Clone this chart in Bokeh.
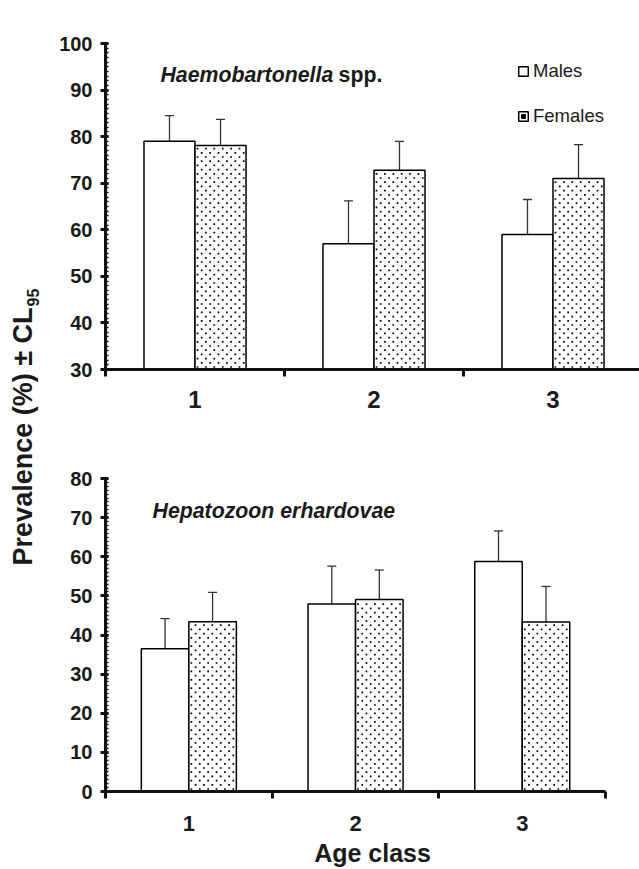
import numpy as np
from bokeh.plotting import figure
from bokeh.layouts import row, column
from bokeh.models import (ColumnDataSource, Whisker, TeeHead, FixedTicker, Label,
                          Legend, LegendItem, Range1d)
from bokeh.core.properties import value
from bokeh.embed import file_html
from bokeh.resources import INLINE

# ---------------- data ----------------
categories = ["1", "2", "3"]

haemo_males = [79.0, 57.0, 59.0]
haemo_males_lo = [73.3, 50.7, 51.5]
haemo_males_hi = [84.5, 66.2, 66.5]
haemo_females = [78.1, 72.8, 71.0]
haemo_females_lo = [71.5, 65.6, 62.1]
haemo_females_hi = [83.7, 79.0, 78.3]

hep_males = [36.5, 47.9, 58.8]
hep_males_lo = [29.6, 38.2, 50.9]
hep_males_hi = [44.2, 57.6, 66.6]
hep_females = [43.4, 49.1, 43.3]
hep_females_lo = [36.2, 41.6, 34.7]
hep_females_hi = [50.9, 56.6, 52.4]

panel_a_yticks = list(range(30, 101, 10))
panel_b_yticks = list(range(0, 81, 10))

FONT = "Liberation Sans"
TXT = "#1a1a1a"
BAR_W = 0.285
LEFT_W = 45
PANEL_W = 594
BORDER_L = 60


def stipple(centers, tops, bottom, px_x, px_y):
    """Staggered dot texture inside the female bars (fill pattern)."""
    dx = 8.4 / px_x
    dy = 4.2 / px_y
    xs, ys = [], []
    for c, t in zip(centers, tops):
        x0 = c - BAR_W / 2 + 2.5 / px_x
        x1 = c + BAR_W / 2 - 2.0 / px_x
        y = bottom + 2.5 / px_y
        k = 0
        while y < t - 2.0 / px_y:
            x = x0 + (dx / 2 if k % 2 else 0.0)
            while x < x1:
                xs.append(x)
                ys.append(y)
                x += dx
            y += dy
            k += 1
    return xs, ys


def make_panel(males, m_lo, m_hi, females, f_lo, f_hi, yticks, cat_px,
               height, border_top, border_bottom, frame_h, cat_font, cat_standoff,
               xlabel=None):
    n = len(categories)
    centers = np.arange(n) + 0.5
    frame_w = PANEL_W - BORDER_L
    x_end = frame_w / cat_px
    px_y = frame_h / (yticks[-1] - yticks[0])
    p = figure(width=PANEL_W, height=height, output_backend="svg", toolbar_location=None,
               x_range=Range1d(0, x_end), y_range=Range1d(yticks[0], yticks[-1]),
               min_border_left=BORDER_L, min_border_right=0,
               min_border_top=border_top, min_border_bottom=border_bottom)
    p.outline_line_color = None
    p.xgrid.visible = False
    p.ygrid.visible = False
    p.background_fill_color = "white"

    src_m = ColumnDataSource(dict(x=centers - BAR_W / 2, top=males, lo=m_lo, hi=m_hi))
    src_f = ColumnDataSource(dict(x=centers + BAR_W / 2, top=females, lo=f_lo, hi=f_hi))

    rm = p.vbar(x="x", top="top", bottom=yticks[0], width=BAR_W, source=src_m,
                fill_color="white", line_color="black", line_width=1.5)
    rf = p.vbar(x="x", top="top", bottom=yticks[0], width=BAR_W, source=src_f,
                fill_color="white", line_color="black", line_width=1.5)
    sx, sy = stipple(centers + BAR_W / 2, females, yticks[0], cat_px, px_y)
    rd = p.scatter(sx, sy, marker="square", size=1.7, fill_color="black",
                   line_color=None)

    for src in (src_m, src_f):
        w = Whisker(base="x", upper="hi", lower="lo", source=src,
                    line_color="#333333", line_width=1.3,
                    upper_head=TeeHead(size=9, line_color="#333333", line_width=1.3),
                    lower_head=TeeHead(size=9, line_color="#333333", line_width=1.3))
        p.add_layout(w)

    # x axis
    xa = p.xaxis[0]
    xa.bounds = (0, n)
    xa.ticker = FixedTicker(ticks=list(centers), minor_ticks=list(range(n + 1)))
    xa.major_label_overrides = {float(c): lab for c, lab in zip(centers, categories)}
    xa.major_tick_line_color = None
    xa.major_tick_out = 0
    xa.major_tick_in = 0
    xa.minor_tick_out = 7
    xa.minor_tick_in = 0
    xa.minor_tick_line_width = 3
    xa.minor_tick_line_color = "#111111"
    xa.axis_line_width = 3
    xa.axis_line_color = "#111111"
    xa.major_label_text_font = FONT
    xa.major_label_text_font_style = "bold"
    xa.major_label_text_font_size = cat_font
    xa.major_label_text_color = TXT
    xa.major_label_standoff = cat_standoff
    if xlabel:
        xa.axis_label = xlabel
        xa.axis_label_text_font = FONT
        xa.axis_label_text_font_style = "bold"
        xa.axis_label_text_font_size = "25px"
        xa.axis_label_text_color = TXT
        xa.axis_label_standoff = 5

    # y axis
    ya = p.yaxis[0]
    ya.ticker = FixedTicker(ticks=yticks, minor_ticks=list(range(yticks[0], yticks[-1] + 1)))
    ya.axis_line_width = 3
    ya.axis_line_color = "#111111"
    ya.major_tick_out = 5
    ya.major_tick_in = 3
    ya.major_tick_line_width = 3
    ya.major_tick_line_color = "#111111"
    ya.minor_tick_out = 0
    ya.minor_tick_in = 3
    ya.minor_tick_line_width = 1.5
    ya.minor_tick_line_color = "#111111"
    ya.major_label_text_font = FONT
    ya.major_label_text_font_style = "bold"
    ya.major_label_text_font_size = "20px"
    ya.major_label_text_color = TXT
    ya.major_label_standoff = 8
    return p, rm, rf, rd


# ---------------- panel a ----------------
pa, rma, rfa, rda = make_panel(haemo_males, haemo_males_lo, haemo_males_hi,
                               haemo_females, haemo_females_lo, haemo_females_hi,
                               panel_a_yticks, 179, height=414,
                               border_top=43, border_bottom=45, frame_h=326,
                               cat_font="24px", cat_standoff=14)

pa.add_layout(Label(x=-0.078, y=102.8, text="a", text_font=FONT, text_font_style="bold",
                    text_font_size="30px", text_color=TXT, text_baseline="alphabetic"))
pa.add_layout(Label(x=0.307, y=93.3, text="Haemobartonella", text_font=FONT,
                    text_font_style="bold italic", text_font_size="21.3px",
                    text_color=TXT, text_baseline="alphabetic"))
pa.add_layout(Label(x=1.302, y=93.3, text="spp.", text_font=FONT,
                    text_font_style="bold", text_font_size="21.3px",
                    text_color=TXT, text_baseline="alphabetic"))

legend = Legend(items=[LegendItem(label="Males", renderers=[rma]),
                       LegendItem(label="Females", renderers=[rfa, rda])],
                location=(412, 242), orientation="vertical",
                glyph_width=12, glyph_height=12, label_standoff=4,
                label_text_font=FONT, label_text_font_size="18.5px",
                label_text_color=TXT, label_height=20,
                spacing=23, padding=0, margin=0,
                border_line_color=None, background_fill_alpha=0)
pa.add_layout(legend)

# ---------------- panel b ----------------
pb, rmb, rfb, rdb = make_panel(hep_males, hep_males_lo, hep_males_hi,
                               hep_females, hep_females_lo, hep_females_hi,
                               panel_b_yticks, 166.7, height=455,
                               border_top=64, border_bottom=78, frame_h=313,
                               cat_font="22px", cat_standoff=17,
                               xlabel="Age class")
pb.add_layout(Label(x=-0.084, y=83.3, text="b", text_font=FONT, text_font_style="bold",
                    text_font_size="30px", text_color=TXT, text_baseline="alphabetic"))
pb.add_layout(Label(x=0.282, y=71.6, text="Hepatozoon erhardovae", text_font=FONT,
                    text_font_style="bold italic", text_font_size="21.3px",
                    text_color=TXT, text_baseline="alphabetic"))

# ---------------- shared y label ----------------
pl = figure(width=LEFT_W, height=869, output_backend="svg", toolbar_location=None,
            x_range=Range1d(0, LEFT_W), y_range=Range1d(0, 869),
            min_border=0, min_border_left=0, min_border_right=0,
            min_border_top=0, min_border_bottom=0)
pl.axis.visible = False
pl.grid.visible = False
pl.outline_line_color = None
pl.text(x=[22], y=[562], text=["Prevalence (%) \u00b1 CL"], angle=np.pi / 2,
        text_align="right", text_baseline="alphabetic", text_font=value(FONT),
        text_font_style="bold", text_font_size="27px", text_color=TXT)
pl.text(x=[32], y=[563], text=["95"], angle=np.pi / 2,
        text_align="left", text_baseline="alphabetic", text_font=value(FONT),
        text_font_style="bold", text_font_size="16px", text_color=TXT)

layout = row(pl, column(pa, pb, spacing=0), spacing=0)
open("out.html", "w").write(file_html(layout, INLINE))
